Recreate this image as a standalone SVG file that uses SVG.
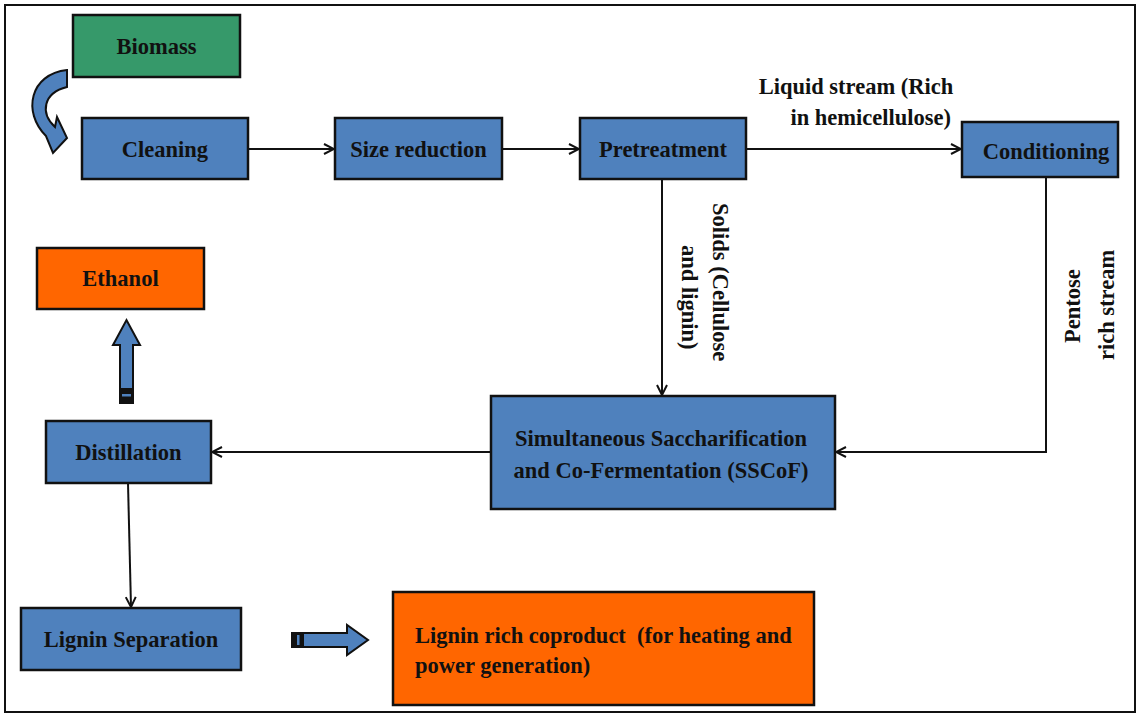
<svg xmlns="http://www.w3.org/2000/svg" width="1138" height="716" viewBox="0 0 1138 716">
<style>
.b{fill:#4f81bd;stroke:#111;stroke-width:2.5}
.o{fill:#ff6600;stroke:#111;stroke-width:2.5}
.g{fill:#36996a;stroke:#111;stroke-width:2.5}
text{font-family:"Liberation Serif","Times New Roman",serif;font-weight:bold;font-size:22.5px;fill:#111}
.c{text-anchor:middle}
.ln{fill:none;stroke:#111;stroke-width:2}
.ba{fill:#4f81bd;stroke:#111;stroke-width:2}
</style>
<defs>
<marker id="ah" viewBox="0 0 12 12" refX="11" refY="6" markerWidth="12" markerHeight="12" markerUnits="userSpaceOnUse" orient="auto">
<path d="M1,1 L11,6 L1,11" fill="none" stroke="#111" stroke-width="2"/>
</marker>
</defs>
<rect x="0" y="0" width="1138" height="716" fill="#fff"/>
<rect x="5" y="5" width="1130" height="707" fill="none" stroke="#111" stroke-width="2"/>

<g id="connectors">
<line class="ln" x1="248" y1="149" x2="334" y2="149" marker-end="url(#ah)"/>
<line class="ln" x1="502" y1="149" x2="579" y2="149" marker-end="url(#ah)"/>
<line class="ln" x1="746" y1="149" x2="961" y2="149" marker-end="url(#ah)"/>
<line class="ln" x1="662" y1="179" x2="662" y2="395" marker-end="url(#ah)"/>
<polyline class="ln" points="1046,177 1046,452 836,452" marker-end="url(#ah)"/>
<line class="ln" x1="491" y1="452" x2="212" y2="452" marker-end="url(#ah)"/>
<line class="ln" x1="128" y1="483" x2="131" y2="607" marker-end="url(#ah)"/>
<path class="ba" d="M67,70 C30,74 22,112 46,136 L53,153 L67,138 L57,117 L55,127 C40,113 43,93 67,87 Z"/>
<g id="arrow-ethanol">
<path class="ba" d="M120,403 L120,345 L113,345 L126.5,320 L140,345 L133,345 L133,403 Z"/>
<rect x="120" y="388" width="13" height="15" fill="#111"/>
<rect x="122" y="394" width="9" height="2.5" fill="#4f81bd"/>
</g>
<g id="arrow-coproduct">
<path class="ba" d="M292,633 L347,633 L347,625 L368,640 L347,655 L347,647 L292,647 Z"/>
<rect x="292" y="633" width="12" height="14" fill="#111"/>
<rect x="297" y="635" width="2.5" height="10" fill="#4f81bd"/>
</g>
<text x="856" y="94" class="c">Liquid stream (Rich</text>
<text x="951" y="125" text-anchor="end">in hemicellulose)</text>
<text transform="translate(713,203) rotate(90)">Solids (Cellulose</text>
<text transform="translate(682,245) rotate(90)">and lignin)</text>
<text transform="translate(1080,343) rotate(-90)">Pentose</text>
<text transform="translate(1114,360) rotate(-90)">rich stream</text>
</g>

<g id="biomass"><rect class="g" x="73" y="15" width="167" height="62"/><text x="156.5" y="54" class="c">Biomass</text></g>
<g id="cleaning"><rect class="b" x="82" y="118" width="166" height="61"/><text x="165" y="157" class="c">Cleaning</text></g>
<g id="size-reduction"><rect class="b" x="335" y="118" width="167" height="61"/><text x="418.5" y="157" class="c">Size reduction</text></g>
<g id="pretreatment"><rect class="b" x="580" y="118" width="166" height="61"/><text x="663" y="157" class="c">Pretreatment</text></g>
<g id="conditioning"><rect class="b" x="962" y="122" width="156" height="55"/><text x="1046" y="159" class="c">Conditioning</text></g>
<g id="ethanol"><rect class="o" x="37" y="248" width="167" height="61"/><text x="120.5" y="286" class="c">Ethanol</text></g>
<g id="sscof"><rect class="b" x="491" y="396" width="344" height="113"/><text x="661" y="446" class="c">Simultaneous Saccharification</text><text x="661" y="478" class="c">and Co-Fermentation (SSCoF)</text></g>
<g id="distillation"><rect class="b" x="46" y="421" width="165" height="62"/><text x="128.5" y="460" class="c">Distillation</text></g>
<g id="lignin-separation"><rect class="b" x="21" y="608" width="220" height="62"/><text x="131" y="647" class="c">Lignin Separation</text></g>
<g id="coproduct"><rect class="o" x="393" y="592" width="421" height="113"/><text x="415" y="643" xml:space="preserve">Lignin rich coproduct  (for heating and</text><text x="415" y="673">power generation)</text></g>
</svg>
